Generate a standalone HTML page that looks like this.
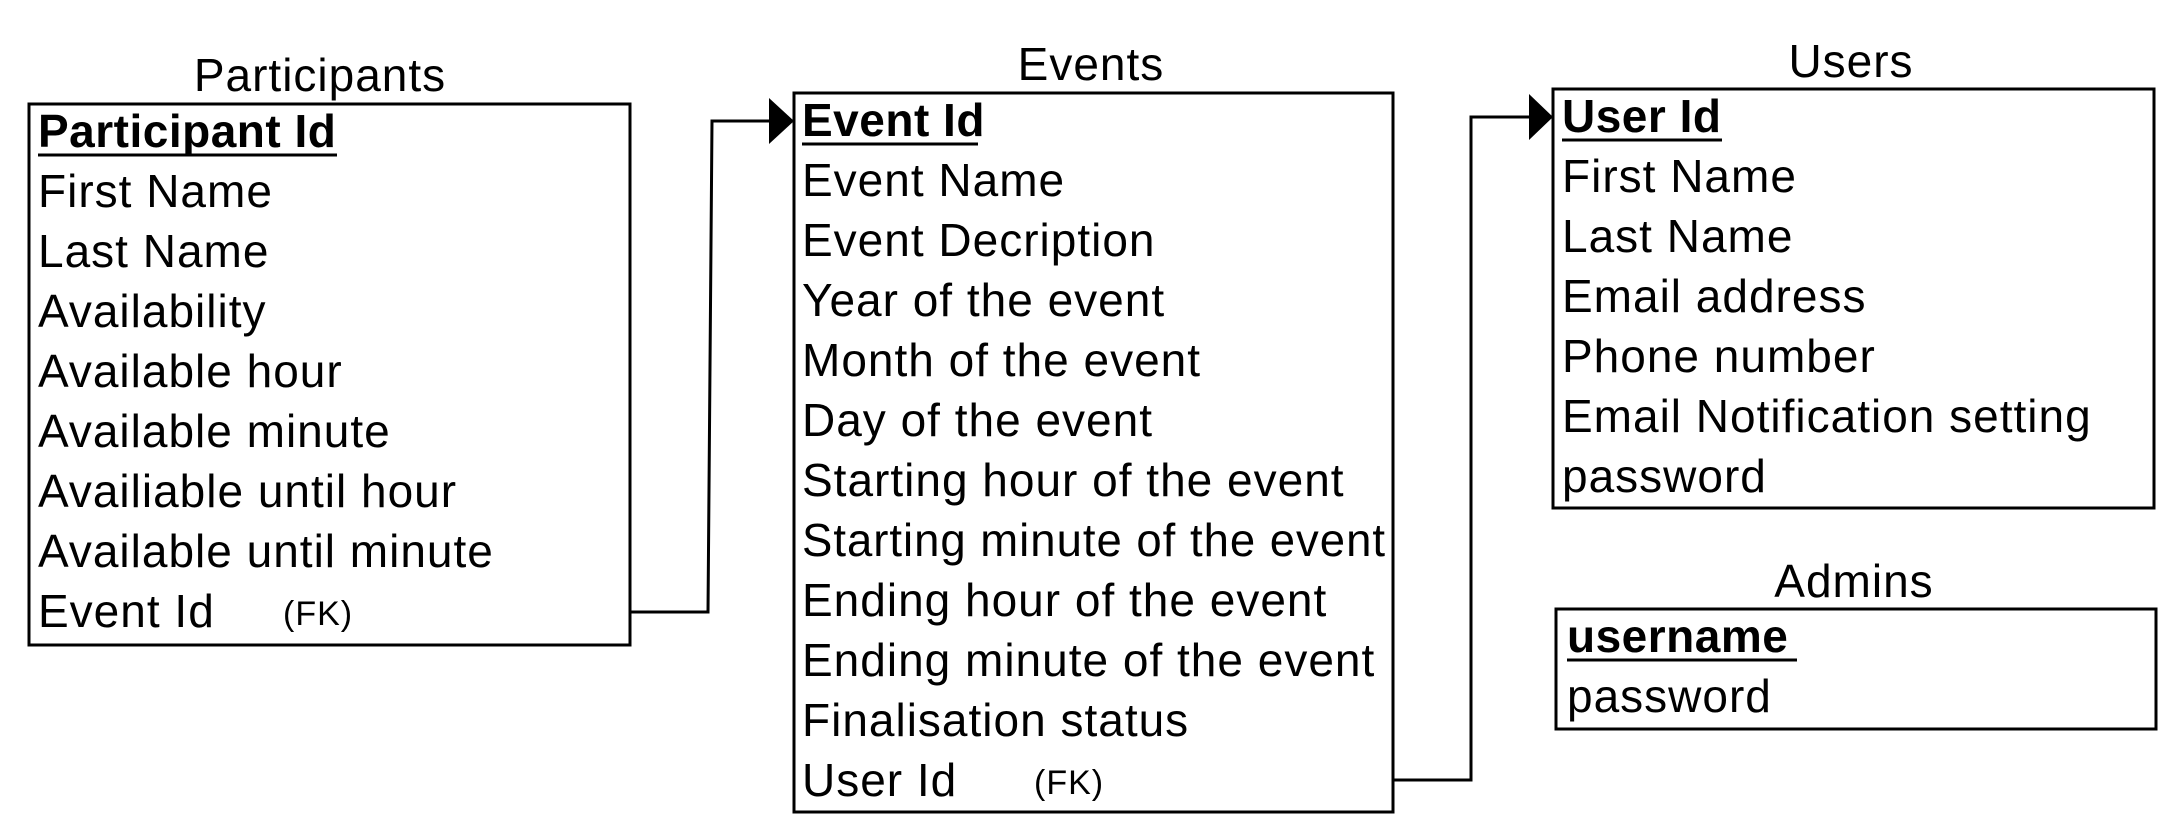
<!DOCTYPE html>
<html><head><meta charset="utf-8"><style>
html,body{margin:0;padding:0;background:#fff;}
svg{display:block;}
text{font-family:"Liberation Sans",sans-serif;fill:#000;letter-spacing:1px;}
.t{font-size:46px;}
.h{font-size:46px;text-anchor:middle;}
.b{font-size:46px;font-weight:bold;letter-spacing:0.5px;}
.fk{font-size:34px;}
</style></head><body>
<svg width="2184" height="840" viewBox="0 0 2184 840" xmlns="http://www.w3.org/2000/svg">
<g fill="none" stroke="#000" stroke-width="3">
<rect x="29" y="104" width="601" height="541"/>
<rect x="794" y="93" width="599" height="719"/>
<rect x="1553" y="89" width="601" height="419"/>
<rect x="1556" y="609" width="600" height="120"/>
<polyline points="630,612 708,612 712,121 772,121"/>
<polyline points="1393,780 1471,780 1471,117 1532,117"/>
</g>
<polygon points="769,98 794,121 769,144" fill="#000"/>
<polygon points="1529,94 1553,117 1529,140" fill="#000"/>

<text class="h" x="320" y="91">Participants</text>
<text class="b" x="38" y="147">Participant Id</text>
<line x1="38" y1="155" x2="337" y2="155" stroke="#000" stroke-width="3"/>
<text class="t" x="38" y="207">First Name</text>
<text class="t" x="38" y="267">Last Name</text>
<text class="t" x="38" y="327">Availability</text>
<text class="t" x="38" y="387">Available hour</text>
<text class="t" x="38" y="447">Available minute</text>
<text class="t" x="38" y="507">Availiable until hour</text>
<text class="t" x="38" y="567">Available until minute</text>
<text class="t" x="38" y="627">Event Id</text>
<text class="fk" x="283" y="625">(FK)</text>

<text class="h" x="1091" y="80">Events</text>
<text class="b" x="802" y="136">Event Id</text>
<line x1="802" y1="144" x2="978" y2="144" stroke="#000" stroke-width="3"/>
<text class="t" x="802" y="196">Event Name</text>
<text class="t" x="802" y="256">Event Decription</text>
<text class="t" x="802" y="316">Year of the event</text>
<text class="t" x="802" y="376">Month of the event</text>
<text class="t" x="802" y="436">Day of the event</text>
<text class="t" x="802" y="496">Starting hour of the event</text>
<text class="t" x="802" y="556" textLength="584" lengthAdjust="spacingAndGlyphs">Starting minute of the event</text>
<text class="t" x="802" y="616">Ending hour of the event</text>
<text class="t" x="802" y="676">Ending minute of the event</text>
<text class="t" x="802" y="736">Finalisation status</text>
<text class="t" x="802" y="796">User Id</text>
<text class="fk" x="1034" y="794">(FK)</text>

<text class="h" x="1851" y="77">Users</text>
<text class="b" x="1562" y="132">User Id</text>
<line x1="1562" y1="140" x2="1722" y2="140" stroke="#000" stroke-width="3"/>
<text class="t" x="1562" y="192">First Name</text>
<text class="t" x="1562" y="252">Last Name</text>
<text class="t" x="1562" y="312">Email address</text>
<text class="t" x="1562" y="372">Phone number</text>
<text class="t" x="1562" y="432">Email Notification setting</text>
<text class="t" x="1562" y="492">password</text>

<text class="h" x="1854" y="597">Admins</text>
<text class="b" x="1567" y="652">username</text>
<line x1="1567" y1="660" x2="1797" y2="660" stroke="#000" stroke-width="3"/>
<text class="t" x="1567" y="712">password</text>
</svg>
</body></html>
